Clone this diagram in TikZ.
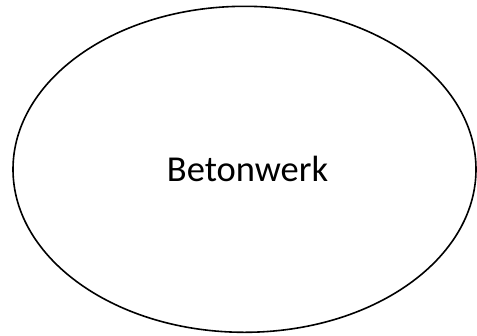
\documentclass[tikz,border=0pt]{standalone}
\usepackage{fontspec}
\setmainfont{Carlito}
\usetikzlibrary{shapes.geometric}
\begin{document}
\begin{tikzpicture}[
        x=1pt, y=1pt,
        plant ellipse/.style={
            draw,
            ellipse,
            line width=1.6pt,
            minimum width=463pt,
            minimum height=326pt,
            inner sep=0pt,
            font=\fontsize{36.5}{43}\selectfont
        }
    ]
        \useasboundingbox (0,0) rectangle (477,-335);
        \node[plant ellipse] (plant) at (244.5,-169.3)
            {\hspace{6pt}Betonwerk};
    \end{tikzpicture}
\end{document}
